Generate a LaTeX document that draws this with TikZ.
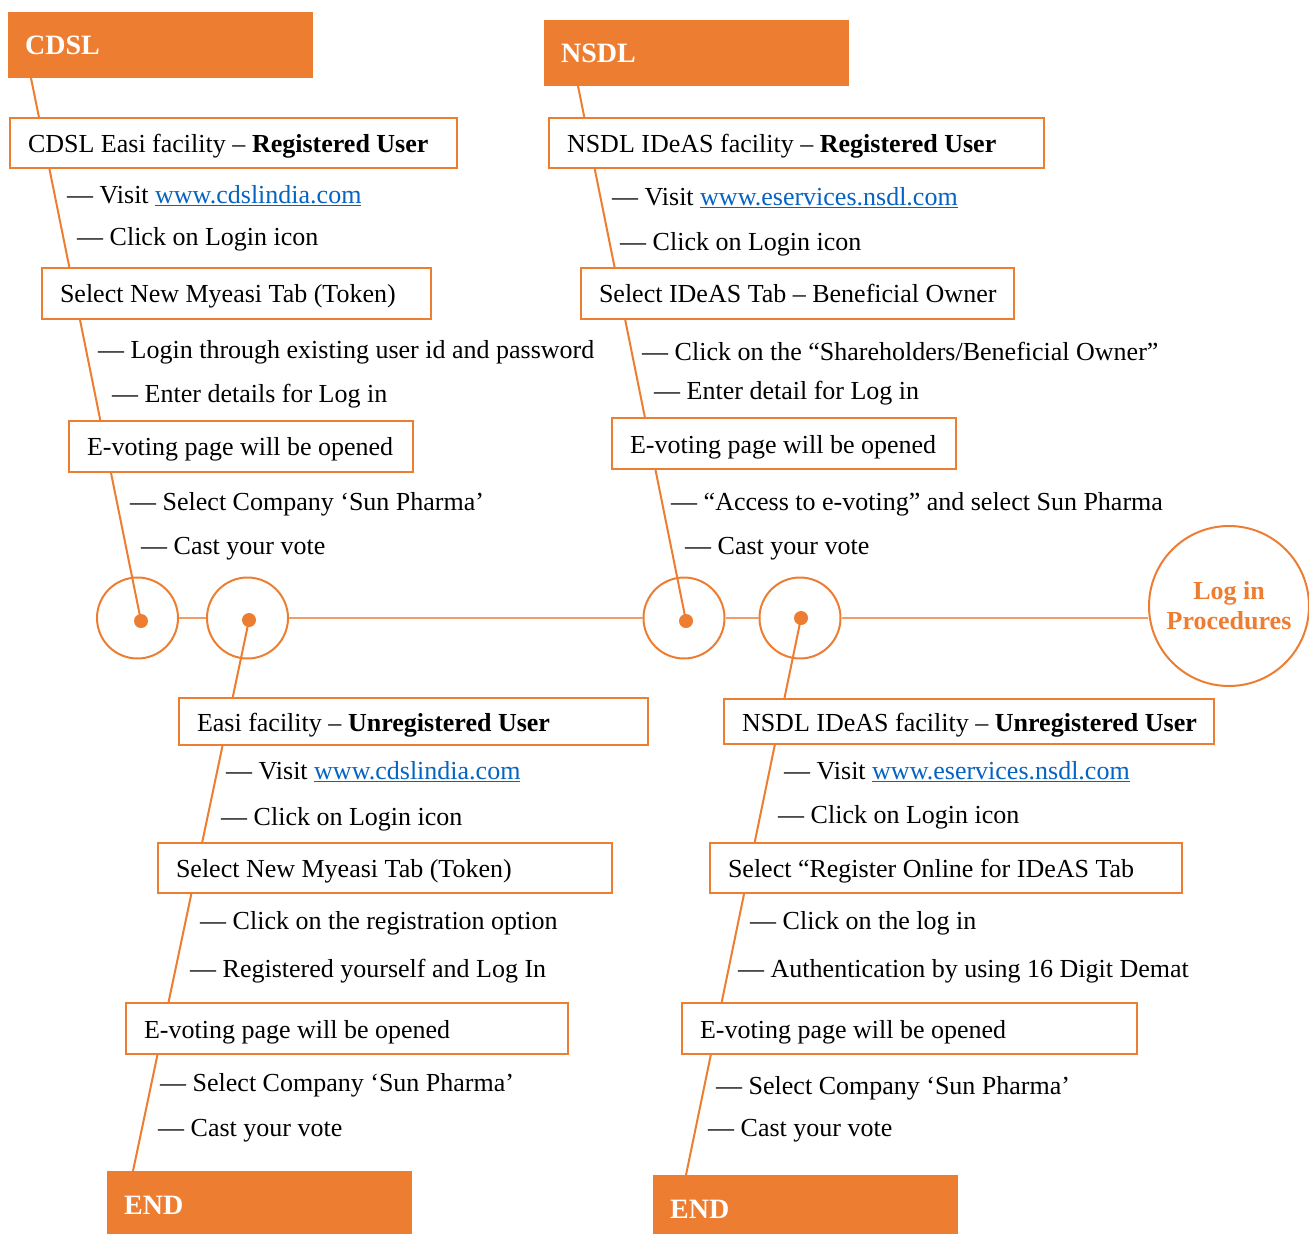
\documentclass[tikz,border=0pt]{standalone}
\usepackage{fontspec}
\setmainfont{Liberation Serif}
\definecolor{orng}{HTML}{ED7D31}
\definecolor{linkblue}{HTML}{0563C1}
\newcommand{\weblink}[1]{\textcolor{linkblue}{\underline{#1}}}
\newcommand{\boxtext}[2]{\makebox[#1pt][l]{#2}}
\tikzset{
  head/.style={fill=orng, text=white, font=\fontsize{28}{32}\selectfont\bfseries, anchor=north west,
    minimum width=305, minimum height=66, inner xsep=17, text width=271, align=left},
  box/.style={draw=orng, line width=2, fill=white, anchor=west, inner xsep=18, minimum height=51,
    text height=24, text depth=5},
  item/.style={anchor=base west, inner sep=0},
  ring/.style={circle, draw=orng, line width=2, minimum size=81, inner sep=0},
  dot/.style={circle, fill=orng, minimum size=14, inner sep=0},
  link/.style={draw=orng, line width=2},
  spine/.style={draw=orng!75, line width=1.5},
}
\begin{document}
\begin{tikzpicture}[x=1pt, y=-1pt, font=\fontsize{26}{30}\selectfont]
\useasboundingbox (0,0) rectangle (1309,1234);
% Headers
\node[head] (cdsl) at (8,12) {CDSL};
\node[head] (nsdl) at (544,20) {NSDL};
\node[head, minimum height=68] (endl) at (107,1171) {END};
\node[head, minimum height=68] (endr) at (653,1175) {END};
\coordinate (cdslfoot) at (31,78);
\coordinate (nsdlfoot) at (578,86);
\coordinate (endltop) at (133,1171);
\coordinate (endrtop) at (686,1175);

% Spine
\node[ring] (ring1) at (137.5,618) {};
\node[ring] (ring2) at (247.5,618) {};
\node[ring] (ring3) at (684,618) {};
\node[ring] (ring4) at (800,618) {};
\node[circle, draw=orng, line width=2, minimum size=160, text=orng, font=\fontsize{26}{30}\selectfont\bfseries, align=center] (logproc) at (1229,606) {Log in\\Procedures};
\node[dot] (dot1) at (141,621) {};
\node[dot] (dot2) at (249,620) {};
\node[dot] (dot3) at (686,621) {};
\node[dot] (dot4) at (801,618) {};
\draw[spine] (ring1) -- (ring2) (ring2) -- (ring3) (ring3) -- (ring4) (ring4.east) -- (ring4 -| logproc.west);

% Branches
\draw[link] (cdslfoot) -- (dot1.center);
\draw[link] (nsdlfoot) -- (dot3.center);
\draw[link] (dot2.center) -- (endltop);
\draw[link] (dot4.center) -- (endrtop);

% CDSL registered
\node[box, minimum height=50] (creg) at (9,143) {\boxtext{411}{CDSL Easi facility -- \textbf{Registered User}}};
\node[item] (creg1) at (67,203) {— Visit \weblink{www.cdslindia.com}};
\node[item] (creg2) at (77,245) {— Click on Login icon};
\node[box] (ctab) at (41,293) {\boxtext{353}{Select New Myeasi Tab (Token)}};
\node[item] (ctab1) at (98,358) {— Login through existing user id and password};
\node[item] (ctab2) at (112,402) {— Enter details for Log in};
\node[box] (cvote) at (68,446) {\boxtext{308}{E-voting page will be opened}};
\node[item] (cvote1) at (130,510) {— Select Company ‘Sun Pharma’};
\node[item] (cvote2) at (141,554) {— Cast your vote};

% NSDL registered
\node[box, minimum height=50] (nreg) at (548,143) {\boxtext{459}{NSDL IDeAS facility -- \textbf{Registered User}}};
\node[item] (nreg1) at (612,205) {— Visit \weblink{www.eservices.nsdl.com}};
\node[item] (nreg2) at (620,250) {— Click on Login icon};
\node[box] (ntab) at (580,293) {\boxtext{397}{Select IDeAS Tab -- Beneficial Owner}};
\node[item] (ntab1) at (642,360) {— Click on the “Shareholders/Beneficial Owner”};
\node[item] (ntab2) at (654,399) {— Enter detail for Log in};
\node[box] (nvote) at (611,443.5) {\boxtext{308}{E-voting page will be opened}};
\node[item] (nvote1) at (671,510) {— “Access to e-voting” and select Sun Pharma};
\node[item] (nvote2) at (685,554) {— Cast your vote};

% CDSL unregistered
\node[box, minimum height=47] (cunreg) at (178,721.5) {\boxtext{433}{Easi facility -- \textbf{Unregistered User}}};
\node[item] (cunreg1) at (226,779) {— Visit \weblink{www.cdslindia.com}};
\node[item] (cunreg2) at (221,825) {— Click on Login icon};
\node[box, minimum height=50] (ctabu) at (157,868) {\boxtext{418}{Select New Myeasi Tab (Token)}};
\node[item] (ctabu1) at (200,929) {— Click on the registration option};
\node[item] (ctabu2) at (190,977) {— Registered yourself and Log In};
\node[box] (cvoteu) at (125,1028.5) {\boxtext{406}{E-voting page will be opened}};
\node[item] (cvoteu1) at (160,1091) {— Select Company ‘Sun Pharma’};
\node[item] (cvoteu2) at (158,1136) {— Cast your vote};

% NSDL unregistered
\node[box, minimum height=45] (nunreg) at (723,721.5) {\boxtext{454}{NSDL IDeAS facility -- \textbf{Unregistered User}}};
\node[item] (nunreg1) at (784,779) {— Visit \weblink{www.eservices.nsdl.com}};
\node[item] (nunreg2) at (778,823) {— Click on Login icon};
\node[box, minimum height=50] (nonline) at (709,868) {\boxtext{436}{Select “Register Online for IDeAS Tab}};
\node[item] (nonline1) at (750,929) {— Click on the log in};
\node[item] (nonline2) at (738,977) {— Authentication by using 16 Digit Demat};
\node[box] (nvoteu) at (681,1028.5) {\boxtext{419}{E-voting page will be opened}};
\node[item] (nvoteu1) at (716,1094) {— Select Company ‘Sun Pharma’};
\node[item] (nvoteu2) at (708,1136) {— Cast your vote};
\end{tikzpicture}
\end{document}
